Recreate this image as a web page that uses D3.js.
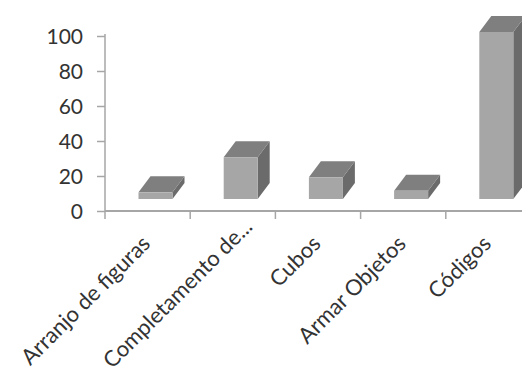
<!DOCTYPE html>
<html>
<head>
<meta charset="utf-8">
<script src="https://cdn.jsdelivr.net/npm/d3@7"></script>
<style>
  html, body { margin: 0; padding: 0; background: #fff; }
  svg { display: block; }
  text { font-family: Lato, "Open Sans", sans-serif; fill: #333; }
</style>
</head>
<body>
<svg id="chart" width="522" height="374"></svg>
<script>
// Category names and their scores
const categories = ["Arranjo de figuras", "Completamento de...", "Cubos", "Armar Objetos", "Códigos"];
const values = [4, 25, 13, 5, 100];
const yTicks = [0, 20, 40, 60, 80, 100];

const svg = d3.select("#chart");

// Value axis scale (axis plane) and band scale for categories
const y = d3.scaleLinear().domain([0, 100]).range([211, 36]);
const x = d3.scaleBand().domain(categories).range([105, 531]).padding(0);

// Front plane of the 3D columns sits a little behind the floor edge
const yBar = d3.scaleLinear().domain([0, 100]).range([199, 32]);
const depthX = 12, depthY = -16;
const faceOffset = 33.5, faceWidth = 34;

const axisColor = "#a6a6a6";

// Y axis
const yAxis = svg.append("g")
  .attr("transform", "translate(105,0)")
  .call(d3.axisLeft(y).tickValues(yTicks).tickSize(8).tickPadding(14));
yAxis.select(".domain").attr("stroke", axisColor).attr("stroke-width", 1.5)
  .attr("d", `M0,${y(100) - 2}V${y(0)}`);
yAxis.selectAll(".tick line").attr("stroke", axisColor).attr("stroke-width", 1.5);
yAxis.selectAll(".tick text").style("font-size", "21px").attr("fill", "#333").attr("dy", "0.36em");

// X axis: baseline with ticks at category boundaries
const xAxisG = svg.append("g");
xAxisG.append("line")
  .attr("x1", x.range()[0]).attr("x2", 522)
  .attr("y1", y(0)).attr("y2", y(0))
  .attr("stroke", axisColor).attr("stroke-width", 2);
xAxisG.selectAll("line.tk")
  .data(categories.slice(1))
  .join("line")
  .attr("class", "tk")
  .attr("x1", d => x(d)).attr("x2", d => x(d))
  .attr("y1", y(0)).attr("y2", y(0) + 8)
  .attr("stroke", axisColor).attr("stroke-width", 1.5);
xAxisG.append("line")
  .attr("x1", x.range()[0]).attr("x2", x.range()[0])
  .attr("y1", y(0)).attr("y2", y(0) + 8)
  .attr("stroke", axisColor).attr("stroke-width", 1.5);

// Category labels rotated 45 degrees; truncated labels overhang a bit further
xAxisG.selectAll("text.cat")
  .data(categories)
  .join("text")
  .attr("class", "cat")
  .attr("text-anchor", "end")
  .style("font-size", "22px")
  .attr("dx", d => d.endsWith("...") ? 24 : 0)
  .attr("transform", d => `translate(${x(d) + x.bandwidth() / 2 + 4},${y(0) + 34}) rotate(-45)`)
  .text(d => d);

// 3D columns: side, top and front faces
const bars = svg.append("g").selectAll("g.bar")
  .data(categories.map((c, i) => ({ c, v: values[i] })))
  .join("g").attr("class", "bar");

bars.append("path")
  .attr("fill", "#6b6b6b")
  .attr("d", d => {
    const x1 = x(d.c) + faceOffset + faceWidth, yt = yBar(d.v), yb = yBar(0);
    return `M${x1},${yt}L${x1 + depthX},${yt + depthY}L${x1 + depthX},${yb + depthY}L${x1},${yb}Z`;
  });

bars.append("path")
  .attr("fill", "#7f7f7f")
  .attr("d", d => {
    const x0 = x(d.c) + faceOffset, x1 = x0 + faceWidth, yt = yBar(d.v);
    return `M${x0},${yt}L${x0 + depthX},${yt + depthY}L${x1 + depthX},${yt + depthY}L${x1},${yt}Z`;
  });

bars.append("rect")
  .attr("fill", "#a6a6a6")
  .attr("x", d => x(d.c) + faceOffset)
  .attr("width", faceWidth)
  .attr("y", d => yBar(d.v))
  .attr("height", d => yBar(0) - yBar(d.v));
</script>
</body>
</html>
